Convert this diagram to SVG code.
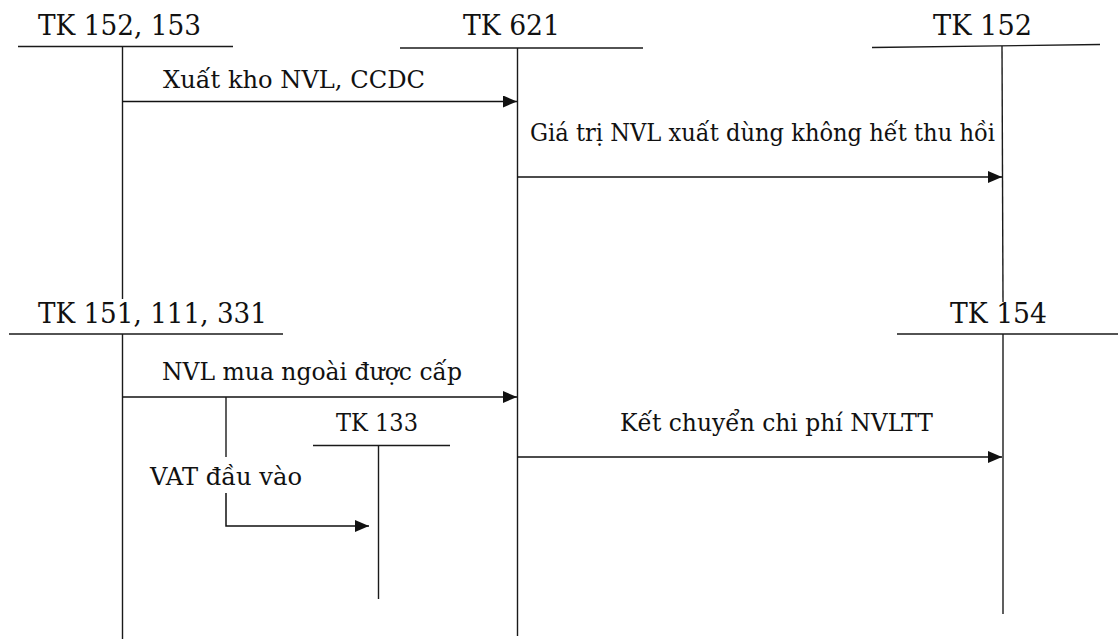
<svg xmlns="http://www.w3.org/2000/svg" width="1118" height="639" viewBox="0 0 1118 639">
  <style>
    .bg { fill: #ffffff; }
    text { font-family: 'DejaVu Serif', 'Liberation Serif', serif; fill: #111; }
    .acct { font-size: 28px; }
    .acct-sm { font-size: 24px; }
    .lbl { font-size: 25px; }
    .rule { stroke: #1a1a1a; stroke-width: 1.4; fill: none; }
    .flow { stroke: #111; stroke-width: 1.5; fill: none; marker-end: url(#head); }
  </style>
  <defs>
    <marker id="head" markerUnits="userSpaceOnUse" markerWidth="14" markerHeight="12" refX="14" refY="6" orient="auto">
      <path d="M0,0 L14,6 L0,12 Z" fill="#111"/>
    </marker>
  </defs>

  <rect class="bg" x="0" y="0" width="1118" height="639"/>

  <!-- T-accounts: title, top rule, centre rule -->
  <g id="tk152-153">
    <text class="acct" x="38" y="35" textLength="163" lengthAdjust="spacingAndGlyphs">TK 152, 153</text>
    <line class="rule" x1="18" y1="46.5" x2="233" y2="46.5"/>
    <line class="rule" x1="122.5" y1="46.5" x2="122.5" y2="299"/>
  </g>

  <g id="tk621">
    <text class="acct" x="463" y="35" textLength="97" lengthAdjust="spacingAndGlyphs">TK 621</text>
    <line class="rule" x1="400" y1="48" x2="643" y2="48"/>
    <line class="rule" x1="517.5" y1="48" x2="517.5" y2="636"/>
  </g>

  <g id="tk152">
    <text class="acct" x="933" y="35" textLength="99" lengthAdjust="spacingAndGlyphs">TK 152</text>
    <line class="rule" x1="872" y1="47.5" x2="1100" y2="44.5"/>
    <line class="rule" x1="1002" y1="46" x2="1003" y2="302"/>
  </g>

  <g id="tk151-111-331">
    <text class="acct" x="38" y="323" textLength="229" lengthAdjust="spacingAndGlyphs">TK 151, 111, 331</text>
    <line class="rule" x1="9" y1="334" x2="283" y2="334"/>
    <line class="rule" x1="122.5" y1="334" x2="122.5" y2="639"/>
  </g>

  <g id="tk154">
    <text class="acct" x="950" y="323" textLength="97" lengthAdjust="spacingAndGlyphs">TK 154</text>
    <line class="rule" x1="897" y1="334" x2="1118" y2="334"/>
    <line class="rule" x1="1003" y1="334" x2="1003" y2="614"/>
  </g>

  <g id="tk133">
    <text class="acct-sm" x="336" y="431" textLength="82" lengthAdjust="spacingAndGlyphs">TK 133</text>
    <line class="rule" x1="313" y1="445.5" x2="450" y2="445.5"/>
    <line class="rule" x1="378.5" y1="445.5" x2="378.5" y2="599"/>
  </g>

  <!-- Postings between accounts -->
  <g id="connectors">
    <line class="flow" x1="122.5" y1="101.5" x2="517" y2="101.5"/>
    <line class="flow" x1="517.5" y1="177" x2="1002" y2="177"/>
    <line class="flow" x1="122.5" y1="397" x2="517" y2="397"/>
    <line class="flow" x1="517.5" y1="457" x2="1002" y2="457"/>
    <line class="rule" x1="226" y1="397" x2="226" y2="457"/>
    <path class="flow" d="M226,493 V526 H369"/>
  </g>

  <g id="labels">
    <text class="lbl" x="163" y="88" textLength="262" lengthAdjust="spacingAndGlyphs">Xuất kho NVL, CCDC</text>
    <text class="lbl" x="530" y="141" textLength="465" lengthAdjust="spacingAndGlyphs">Giá trị NVL xuất dùng không hết thu hồi</text>
    <text class="lbl" x="162" y="380" textLength="300" lengthAdjust="spacingAndGlyphs">NVL mua ngoài được cấp</text>
    <text class="lbl" x="620" y="431" textLength="313" lengthAdjust="spacingAndGlyphs">Kết chuyển chi phí NVLTT</text>
    <text class="lbl" x="150" y="485" textLength="152" lengthAdjust="spacingAndGlyphs">VAT đầu vào</text>
  </g>
</svg>
